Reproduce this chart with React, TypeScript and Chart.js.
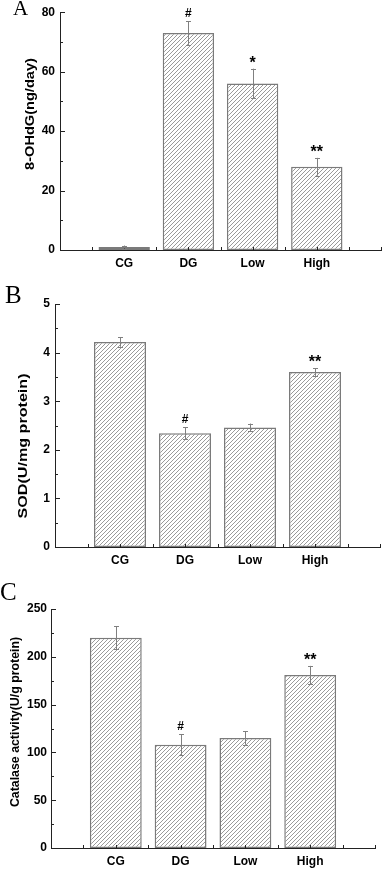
import React, { useEffect, useRef } from "react";
import { Chart, registerables } from "chart.js";

Chart.register(...registerables);

// ---------- data ----------
const categories = ["CG", "DG", "Low", "High"];

const ohdgMeans = [1, 73, 56, 28];
const ohdgErrors = [0.5, 4, 5, 3];
const ohdgMarks = ["", "#", "*", "**"];
const ohdgTicks = [0, 20, 40, 60, 80];

const sodMeans = [4.22, 2.34, 2.46, 3.6];
const sodErrors = [0.1, 0.12, 0.08, 0.08];
const sodMarks = ["", "#", "", "**"];
const sodTicks = [0, 1, 2, 3, 4, 5];

const catMeans = [220, 108, 115, 181];
const catErrors = [12, 11, 7, 9.5];
const catMarks = ["", "#", "", "**"];
const catTicks = [0, 50, 100, 150, 200, 250];

// ---------- layout ----------
const layoutA = {
  top: 0, height: 285, left: 60, right: 386, areaTop: 8, areaBottom: 250,
  tickPad: 5, labelPad: 6, titleX: 30, titleY: 114, titleSize: 13.5, titleStretch: 1.08,
  letterLeft: 13, letterTop: -2, letterSize: 21,
};
const layoutB = {
  top: 285, height: 290, left: 55, right: 380, areaTop: 19, areaBottom: 262,
  tickPad: 5, labelPad: 6, titleX: 24, titleY: 161, titleSize: 12.5, titleStretch: 1.29,
  letterLeft: 5, letterTop: 282, letterSize: 25,
};
const layoutC = {
  top: 575, height: 295, left: 51, right: 375, areaTop: 34, areaBottom: 273,
  tickPad: 4, labelPad: 6, titleX: 15, titleY: 147, titleSize: 13, titleStretch: 0.95,
  letterLeft: 0, letterTop: 579, letterSize: 25,
};

const panels = [
  { letter: "A", title: "8-OHdG(ng/day)", means: ohdgMeans, errors: ohdgErrors, marks: ohdgMarks, ticks: ohdgTicks, layout: layoutA },
  { letter: "B", title: "SOD(U/mg protein)", means: sodMeans, errors: sodErrors, marks: sodMarks, ticks: sodTicks, layout: layoutB },
  { letter: "C", title: "Catalase activity(U/g protein)", means: catMeans, errors: catErrors, marks: catMarks, ticks: catTicks, layout: layoutC },
];

const SANS = '"Liberation Sans", Arial, sans-serif';
const SERIF = '"Liberation Serif", "Times New Roman", serif';
const W = 387;

function makeHatch(): CanvasPattern | string {
  const c = document.createElement("canvas");
  const s = 4;
  c.width = s;
  c.height = s;
  const g = c.getContext("2d");
  if (!g) return "#fff";
  g.fillStyle = "#ffffff";
  g.fillRect(0, 0, s, s);
  g.strokeStyle = "#9a9a9a";
  g.lineWidth = 1;
  g.beginPath();
  g.moveTo(0, s);
  g.lineTo(s, 0);
  g.moveTo(-1, 1);
  g.lineTo(1, -1);
  g.moveTo(s - 1, s + 1);
  g.lineTo(s + 1, s - 1);
  g.stroke();
  const p = g.createPattern(c, "repeat");
  return p || "#fff";
}

const decorPlugin = {
  id: "decor",
  afterDatasetsDraw(chart: any, _args: any, opts: any) {
    const panel = opts.panel;
    const L = panel.layout;
    const { ctx } = chart;
    const x = chart.scales.x;
    const y = chart.scales.y;
    ctx.save();

    // axis ticks (inward)
    ctx.strokeStyle = "#222";
    ctx.lineWidth = 1;
    const axisX = Math.round(y.right) + 0.5;
    const axisY = Math.round(x.top) + 0.5;
    const ticks: number[] = panel.ticks;
    const step = ticks[1] - ticks[0];
    const maxV = ticks[ticks.length - 1];
    ctx.beginPath();
    for (let k = 0; k * step / 2 <= maxV + 1e-9; k++) {
      const v = (k * step) / 2;
      const py = Math.round(y.getPixelForValue(v)) + 0.5;
      const len = k % 2 === 0 ? 4.5 : 2.5;
      ctx.moveTo(axisX, py);
      ctx.lineTo(axisX + len, py);
    }
    const nCat = categories.length + 1;
    for (let k = 1; k <= nCat * 2; k++) {
      const px = Math.round(x.getPixelForValue(k / 2)) + 0.5;
      ctx.moveTo(px, axisY);
      ctx.lineTo(px, axisY - 3.5);
    }
    ctx.stroke();

    // error bars
    ctx.strokeStyle = "#808080";
    ctx.lineWidth = 1;
    const tops: number[] = [];
    panel.means.forEach((m: number, i: number) => {
      const e = panel.errors[i];
      const cx = Math.round(x.getPixelForValue(i + 1)) + 0.5;
      const t = y.getPixelForValue(m + e);
      const b = y.getPixelForValue(Math.max(0, m - e));
      tops.push(t);
      ctx.beginPath();
      ctx.moveTo(cx, t);
      ctx.lineTo(cx, b);
      ctx.moveTo(cx - 2.5, Math.round(t) + 0.5);
      ctx.lineTo(cx + 2.5, Math.round(t) + 0.5);
      ctx.moveTo(cx - 2.5, Math.round(b) + 0.5);
      ctx.lineTo(cx + 2.5, Math.round(b) + 0.5);
      ctx.stroke();
    });

    // significance marks
    ctx.fillStyle = "#000";
    ctx.textAlign = "center";
    ctx.textBaseline = "alphabetic";
    panel.marks.forEach((mk: string, i: number) => {
      if (!mk) return;
      const cx = x.getPixelForValue(i + 1);
      if (mk.indexOf("*") >= 0) {
        ctx.font = `bold 16px ${SANS}`;
        ctx.fillText(mk, cx, tops[i] - 1);
      } else {
        ctx.font = `bold 12px ${SANS}`;
        ctx.fillText(mk, cx, tops[i] - 4);
      }
    });

    // y-axis title
    ctx.save();
    ctx.translate(L.titleX, L.titleY);
    ctx.rotate(-Math.PI / 2);
    ctx.scale(L.titleStretch, 1);
    ctx.font = `bold ${L.titleSize}px ${SANS}`;
    ctx.textAlign = "center";
    ctx.textBaseline = "middle";
    ctx.fillText(panel.title, 0, 0);
    ctx.restore();

    ctx.restore();
  },
};

function Panel({ panel }: { panel: any }) {
  const ref = useRef<HTMLCanvasElement>(null);
  const L = panel.layout;
  useEffect(() => {
    const canvas = ref.current;
    if (!canvas) return;
    const hatch = makeHatch();
    const labels = ["", ...categories, ""];
    const data = [null, ...panel.means, null];
    const ticks: number[] = panel.ticks;
    const chart = new Chart(canvas, {
      type: "bar",
      data: {
        labels,
        datasets: [
          {
            data,
            backgroundColor: hatch as any,
            borderColor: "#7a7a7a",
            borderWidth: 1.5,
            borderSkipped: false,
            categoryPercentage: 1,
            barPercentage: 0.8,
          },
        ],
      },
      options: {
        responsive: false,
        animation: false,
        devicePixelRatio: 1,
        layout: {
          padding: { left: 0, top: L.areaTop, right: W - L.right, bottom: 0 },
        },
        plugins: {
          legend: { display: false },
          tooltip: { enabled: false },
          title: { display: false },
          decor: { panel },
        } as any,
        scales: {
          x: {
            type: "category",
            offset: false,
            grid: { display: false, drawTicks: false },
            border: { display: true, color: "#222", width: 1 },
            ticks: {
              autoSkip: false,
              maxRotation: 0,
              padding: L.labelPad,
              color: "#000",
              font: { family: SANS, size: 12, weight: "bold" },
            },
            afterFit: (s: any) => {
              s.height = L.height - L.areaBottom;
            },
          },
          y: {
            type: "linear",
            min: ticks[0],
            max: ticks[ticks.length - 1],
            grid: { display: false, drawTicks: false },
            border: { display: true, color: "#222", width: 1 },
            ticks: {
              stepSize: ticks[1] - ticks[0],
              padding: L.tickPad,
              color: "#000",
              font: { family: SANS, size: 12, weight: "bold" },
            },
            afterFit: (s: any) => {
              s.width = L.left;
            },
          },
        },
      },
      plugins: [decorPlugin],
    } as any);
    return () => chart.destroy();
  }, []);
  return (
    <>
      <canvas
        ref={ref}
        width={W}
        height={L.height}
        style={{ position: "absolute", left: 0, top: L.top, width: W, height: L.height }}
      />
      <div
        style={{
          position: "absolute",
          left: L.letterLeft,
          top: L.letterTop,
          fontFamily: SERIF,
          fontSize: L.letterSize,
          lineHeight: 1,
          color: "#000",
        }}
      >
        {panel.letter}
      </div>
    </>
  );
}

export default function App() {
  return (
    <div style={{ position: "absolute", left: 0, top: 0, width: W, height: 870, background: "#fff", overflow: "hidden" }}>
      {panels.map((p) => (
        <Panel key={p.letter} panel={p} />
      ))}
    </div>
  );
}
